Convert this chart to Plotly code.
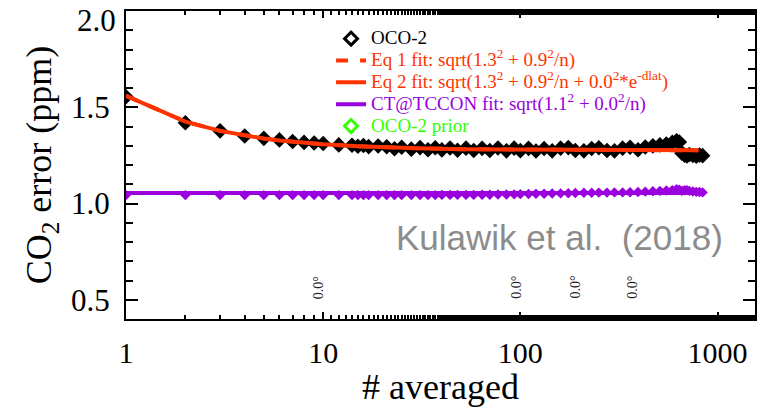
import plotly.graph_objects as go
import numpy as np

# ---------------- data ----------------
oco2_n = [1, 2, 3, 4, 5, 6, 7, 8, 9, 10, 12, 14, 15, 16, 17, 19, 21, 23, 25, 28,
          31, 34, 37, 40, 44, 48, 53, 58, 64, 70, 77, 85, 93, 100, 110, 120, 132,
          145, 160, 175, 190, 210, 230, 250, 275, 300, 330, 360, 395, 430, 470,
          510, 550, 590, 620, 640, 660, 680, 700, 720, 750, 780, 810, 840]
oco2_err = [1.555, 1.420, 1.378, 1.351, 1.339, 1.331, 1.323, 1.318, 1.315, 1.312,
            1.305, 1.303, 1.298, 1.302, 1.296, 1.299, 1.295, 1.285, 1.293, 1.283,
            1.291, 1.280, 1.290, 1.279, 1.289, 1.277, 1.288, 1.276, 1.287, 1.276,
            1.289, 1.274, 1.288, 1.275, 1.287, 1.273, 1.286, 1.274, 1.288, 1.291,
            1.276, 1.274, 1.286, 1.290, 1.276, 1.274, 1.288, 1.293, 1.280, 1.294,
            1.300, 1.305, 1.310, 1.318, 1.326, 1.320, 1.262, 1.252, 1.248, 1.255,
            1.250, 1.246, 1.252, 1.249]

ct_err = [1.044, 1.044, 1.044, 1.044, 1.044, 1.044, 1.044, 1.044, 1.044, 1.044,
          1.044, 1.044, 1.044, 1.044, 1.044, 1.044, 1.044, 1.044, 1.044, 1.044,
          1.044, 1.044, 1.044, 1.045, 1.045, 1.045, 1.045, 1.045, 1.046, 1.046,
          1.047, 1.047, 1.048, 1.049, 1.050, 1.051, 1.051, 1.052, 1.053, 1.054,
          1.055, 1.056, 1.056, 1.057, 1.057, 1.058, 1.058, 1.059, 1.060, 1.062,
          1.064, 1.066, 1.068, 1.070, 1.075, 1.072, 1.066, 1.069, 1.070, 1.066,
          1.063, 1.061, 1.060, 1.058]

fit_n = [1, 2, 3, 4, 5, 6, 7, 8, 9, 10, 15, 20, 30, 50, 100, 200, 400, 800]
eq1_fit = [1.560, 1.426, 1.378, 1.353, 1.338, 1.328, 1.321, 1.316, 1.311, 1.308,
           1.298, 1.293, 1.287, 1.283, 1.280, 1.279, 1.278, 1.277]
eq2_fit = eq1_fit
ct_fit_n = [1, 840]
ct_fit = [1.055, 1.055]

dlat_n = [9.4, 95.5, 190, 370]
dlat_labels = ["0.0°", "0.0°", "0.0°", "0.0°"]

x_ticks = [1, 10, 100, 1000]
y_ticks = [0.5, 1.0, 1.5, 2.0]

RED = "#ff3300"
PURPLE = "#9900dd"
GREEN = "#33ff00"
SERIF = "Liberation Serif"
LEG_FS = "19px"
Y_TICK_FS = 31


def leg(text, color):
    return f"<span style='color:{color};font-size:{LEG_FS}'>{text}</span>"


fig = go.Figure()

# OCO-2 data (filled black diamonds)
fig.add_trace(go.Scatter(x=oco2_n, y=oco2_err, mode="markers", showlegend=False,
                         marker=dict(symbol="diamond", size=12, color="black")))
# CT@TCCON data (purple diamonds)
fig.add_trace(go.Scatter(x=oco2_n, y=ct_err, mode="markers", showlegend=False,
                         marker=dict(symbol="diamond", size=8, color=PURPLE)))
# fits
fig.add_trace(go.Scatter(x=fit_n, y=eq1_fit, mode="lines", legendrank=2,
                         name=leg("Eq 1 fit: sqrt(1.3<sup>2</sup> + 0.9<sup>2</sup>/n)", RED),
                         line=dict(color=RED, width=4, dash="dash")))
fig.add_trace(go.Scatter(x=fit_n, y=eq2_fit, mode="lines", legendrank=3,
                         name=leg("Eq 2 fit: sqrt(1.3<sup>2</sup> + 0.9<sup>2</sup>/n + 0.0<sup>2</sup>*e<sup>-dlat</sup>)", RED),
                         line=dict(color=RED, width=4)))
fig.add_trace(go.Scatter(x=ct_fit_n, y=ct_fit, mode="lines", legendrank=4,
                         name=leg("CT@TCCON fit: sqrt(1.1<sup>2</sup> + 0.0<sup>2</sup>/n)", PURPLE),
                         line=dict(color=PURPLE, width=4)))
# legend-only entries
fig.add_trace(go.Scatter(x=[None], y=[None], mode="markers", legendrank=1,
                         name=leg("OCO-2", "black"),
                         marker=dict(symbol="diamond-open", size=10, color="black",
                                     line=dict(width=3, color="black"))))
fig.add_trace(go.Scatter(x=[None], y=[None], mode="markers", legendrank=5,
                         name=leg("OCO-2 prior", GREEN),
                         marker=dict(symbol="diamond-open", size=10, color=GREEN,
                                     line=dict(width=3, color=GREEN))))

for n, lab in zip(dlat_n, dlat_labels):
    fig.add_annotation(x=np.log10(n), y=0.565, xref="x", yref="y", text=lab,
                       textangle=-90, showarrow=False,
                       font=dict(family=SERIF, size=14, color="#222"))

# top y tick label, nudged down so it stays inside the picture (as in the reference)
fig.add_annotation(x=0, y=y_ticks[-1], xref="paper", yref="y",
                   text=f"{y_ticks[-1]:.1f}", showarrow=False,
                   xanchor="right", yanchor="middle", xshift=-8, yshift=-9,
                   font=dict(family=SERIF, size=Y_TICK_FS, color="black"))

fig.add_annotation(x=0.953, y=0.266, xref="paper", yref="paper",
                   text="Kulawik et al.  (2018)", showarrow=False,
                   xanchor="right", yanchor="middle",
                   font=dict(family="Liberation Sans", size=35, color="#8c8c8c"))

fig.update_layout(
    width=761, height=407,
    margin=dict(l=126, r=6, t=11, b=88, autoexpand=False),
    plot_bgcolor="white", paper_bgcolor="white",
    font=dict(family=SERIF, color="black"),
    showlegend=True,
    legend=dict(x=0.326, y=0.962, xanchor="left", yanchor="top",
                bgcolor="rgba(0,0,0,0)", font=dict(family=SERIF, size=14.5),
                itemwidth=30),
    xaxis=dict(type="log", range=[0, 3.19], tickmode="array", tickvals=x_ticks,
               ticktext=[str(v) for v in x_ticks], automargin=False,
               ticks="inside", ticklen=7, tickwidth=2, tickcolor="black",
               showline=True, linewidth=2, linecolor="black", mirror="allticks",
               showgrid=False, zeroline=False,
               tickfont=dict(family=SERIF, size=30),
               ticklabelstandoff=6, ticklabeloverflow="allow",
               minor=dict(ticks="inside", ticklen=4, tickwidth=1.5, tickcolor="black",
                          showgrid=False),
               title=dict(text="# averaged", font=dict(family=SERIF, size=36), standoff=4)),
    yaxis=dict(range=[0.4, 2.001], tickmode="array", tickvals=y_ticks,
               ticktext=[f"{v:.1f}" for v in y_ticks[:-1]] + [""], automargin=False,
               ticks="inside", ticklen=12, tickwidth=2, tickcolor="black",
               showline=True, linewidth=2, linecolor="black", mirror="allticks",
               showgrid=False, zeroline=False,
               tickfont=dict(family=SERIF, size=Y_TICK_FS),
               ticklabelstandoff=8, ticklabeloverflow="allow",
               minor=dict(ticks="inside", tickmode="linear", tick0=0.4, dtick=0.1,
                          ticklen=7, tickwidth=2, tickcolor="black", showgrid=False),
               title=dict(text="CO<sub>2</sub> error (ppm)",
                          font=dict(family=SERIF, size=36), standoff=8)),
)

fig.write_html("out.html")
